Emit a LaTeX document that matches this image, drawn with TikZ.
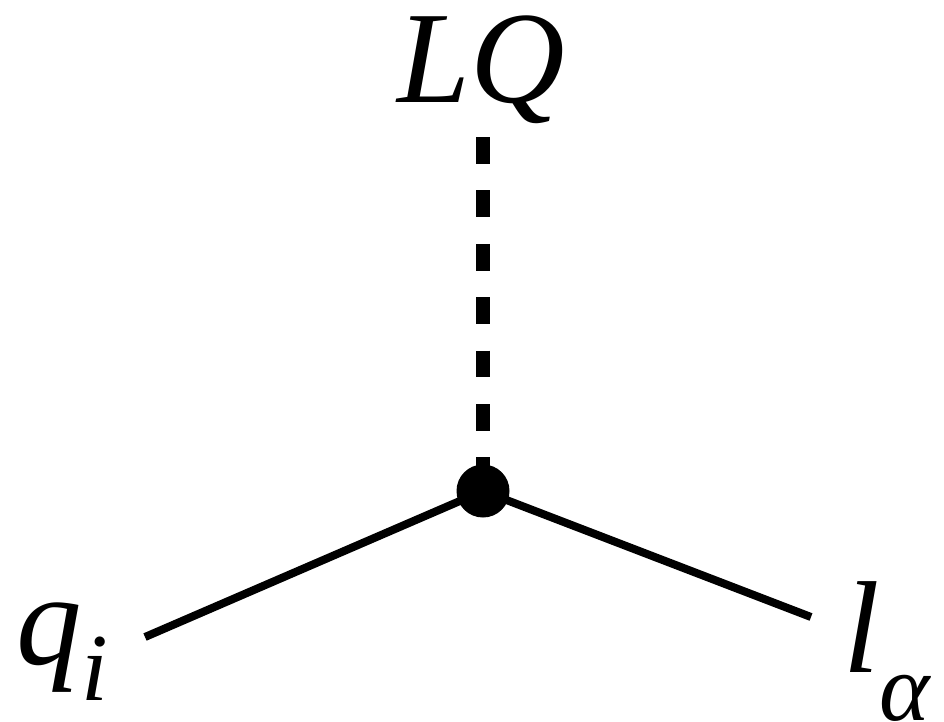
\documentclass[tikz,border=0pt]{standalone}
\usepackage{fontspec}
\setmainfont{Liberation Serif}
\usetikzlibrary{positioning}

\newcommand{\lowsub}[2]{\raisebox{-#1}{\fontsize{96}{96}\selectfont #2}}

\begin{document}
\begin{tikzpicture}[
  x=1pt, y=-1pt,
  lbl/.style={inner sep=0pt, font=\fontsize{131}{131}\selectfont\itshape},
  fermion/.style={line width=8pt, draw=black},
  scalar/.style={line width=14pt, draw=black, dash pattern=on 26.7pt off 26.7pt},
  vtx/.style={circle, fill=black, minimum size=53pt, inner sep=0pt}
]
\useasboundingbox (0,0) rectangle (944,721);

%% labels
\node[lbl, anchor=base] (lq) at (481,102) {LQ};
\node[lbl, anchor=base west] (q) at (16,664) {q\lowsub{36pt}{i}};
\node[lbl, anchor=base west] (l) at (843,672) {l\lowsub{48pt}{α}};

%% line ends
\coordinate (dtop) at (483,137);
\coordinate (qend) at (145,637);
\coordinate (lend) at (811,617);

%% vertex
\coordinate (v) at (483,491);

%% propagators
\draw[scalar] (dtop) -- (v);
\draw[fermion] (qend) -- (v);
\draw[fermion] (v) -- (lend);
\node[vtx] (dot) at (v) {};
\end{tikzpicture}
\end{document}
